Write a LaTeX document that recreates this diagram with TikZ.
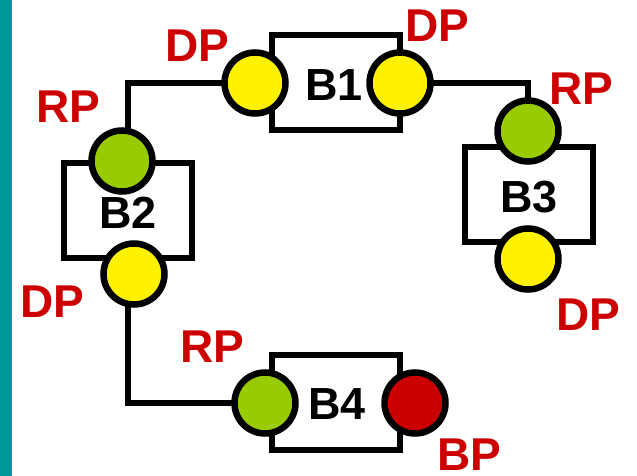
\documentclass[tikz,border=0pt]{standalone}
\usepackage{fontspec}
\setmainfont{Liberation Sans}
\usetikzlibrary{calc}
\pgfdeclarelayer{bg}
\pgfsetlayers{bg,main}
\definecolor{tealbar}{RGB}{0,153,153}
\definecolor{rpgreen}{RGB}{153,204,0}
\definecolor{bpred}{RGB}{204,0,0}
\definecolor{lblred}{RGB}{204,0,0}
\begin{document}
\begin{tikzpicture}[x=1pt,y=-1pt,line width=6.5pt,
  port/.style={circle,draw=black,line width=6.5pt,minimum size=61pt,inner sep=0pt},
  dport/.style={port,fill=yellow},
  rport/.style={port,fill=rpgreen},
  bport/.style={port,fill=bpred},
  lbl/.style={text=lblred,font=\bfseries\fontsize{46}{46}\selectfont,inner sep=0pt},
  bname/.style={text=black,font=\bfseries\fontsize{45}{45}\selectfont,inner sep=0pt},
  bbox/.style={draw=black,fill=white,line width=6.5pt,minimum width=128pt,minimum height=95pt,inner sep=0pt},
  wire/.style={draw=black,line width=6.5pt}]
\useasboundingbox (0,0) rectangle (637,476);
\fill[tealbar] (0,0) rectangle (12,476);
% boxes
\node[bbox] (b1) at (336,82.5) {};
\node[bbox] (b2) at (128,210.5) {};
\node[bbox] (b3) at (529,194.5) {};
\node[bbox] (b4) at (336,402.5) {};
\node[bname] (b1t) at (334,85) {B1};
\node[bname] (b2t) at (128,213) {B2};
\node[bname] (b3t) at (529,197) {B3};
\node[bname] (b4t) at (337,404) {B4};
% ports
\node[dport] (dp1l) at (255,83) {};
\node[dport] (dp1r) at (400,83) {};
\node[rport] (rp2) at (122,161) {};
\node[dport] (dp2) at (134,274) {};
\node[rport] (rp3) at (528,131) {};
\node[dport] (dp3) at (528,259) {};
\node[rport] (rp4) at (265,403) {};
\node[bport] (bp4) at (415,403) {};
% wires
\begin{pgfonlayer}{bg}
\draw[wire] (dp1l.center) -| ($(rp2.center)+(6,0)$);
\draw[wire] (dp1r.center) -| (rp3.center);
\draw[wire] ($(dp2.center)+(-6,0)$) |- (rp4.center);
\end{pgfonlayer}
% labels
\node[lbl] (l1) at (197,46) {DP};
\node[lbl] (l2) at (437,26) {DP};
\node[lbl] (l3) at (68,107) {RP};
\node[lbl] (l4) at (52,302) {DP};
\node[lbl] (l5) at (581,89) {RP};
\node[lbl] (l6) at (588,315) {DP};
\node[lbl] (l7) at (212,347) {RP};
\node[lbl] (l8) at (469,455) {BP};
\end{tikzpicture}
\end{document}
